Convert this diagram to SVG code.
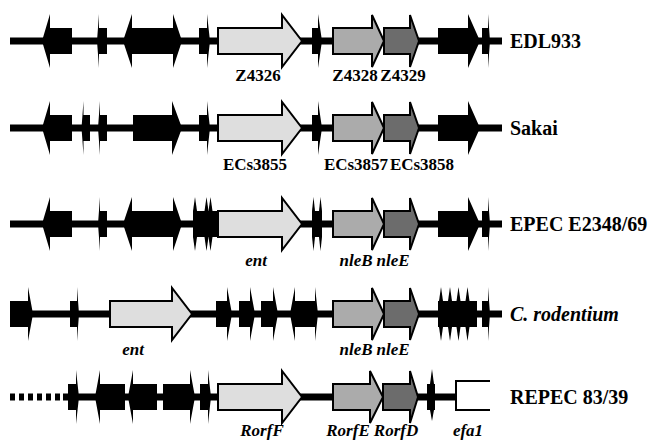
<svg xmlns="http://www.w3.org/2000/svg" width="650" height="440" viewBox="0 0 650 440">
<style>
.bb{stroke:#000;stroke-width:7;fill:none}
.dash{stroke:#000;stroke-width:7;fill:none;stroke-dasharray:5 4}
.blk{fill:#000;stroke:none}
.g1{fill:#dedede;stroke:#000;stroke-width:2;stroke-linejoin:miter}
.g2{fill:#ababab;stroke:#000;stroke-width:2}
.g3{fill:#6c6c6c;stroke:#000;stroke-width:2}
.box{fill:#fff;stroke:#000;stroke-width:2}
.name{font-family:"Liberation Serif","Times New Roman",serif;font-weight:bold;font-size:20px;fill:#000}
.gl{font-family:"Liberation Serif","Times New Roman",serif;font-weight:bold;font-size:17px;fill:#000;text-anchor:middle}
.it{font-style:italic}
</style>
<g id="connectors">
<line class="bb" x1="10" y1="41" x2="502" y2="41"/>
<line class="bb" x1="10" y1="128" x2="502" y2="128"/>
<line class="bb" x1="10" y1="224" x2="502" y2="224"/>
<line class="bb" x1="10" y1="314" x2="502" y2="314"/>
<line class="dash" x1="10" y1="397" x2="63" y2="397"/>
<line class="bb" x1="63" y1="397" x2="456" y2="397"/>
</g>
<g id="edl933" transform="translate(0,41)">
<polygon class="blk" points="42,0 50,-27 50,-13 72,-13 72,13 50,13 50,27"/>
<polygon class="blk" points="97,0 99,-27 99,-13 107,-13 107,13 99,13 99,27"/>
<polygon class="blk" points="123,0 132,-27 132,-13 173,-13 173,-27 182,0 173,27 173,13 132,13 132,27"/>
<polygon class="blk" points="199,-13 207,-13 207,-27 210,0 207,27 207,13 199,13"/>
<polygon class="g1" points="218,-13 282,-13 282,-26 302,0 282,26 282,13 218,13"/>
<polygon class="blk" points="312,-13 318,-13 318,-27 322,0 318,27 318,13 312,13"/>
<polygon class="g2" points="333,-13 372,-13 372,-26 384,0 372,26 372,13 333,13"/>
<polygon class="g3" points="384,-13 410,-13 410,-26 419,0 410,26 410,13 384,13"/>
<polygon class="blk" points="438,-13 468,-13 468,-27 480,0 468,27 468,13 438,13"/>
<polygon class="blk" points="482,-13 488,-13 488,-27 490,0 488,27 488,13 482,13"/>
<text class="name" x="510" y="7">EDL933</text>
<text class="gl" x="258" y="40">Z4326</text>
<text class="gl" x="355" y="40">Z4328</text>
<text class="gl" x="403" y="40">Z4329</text>
</g>
<g id="sakai" transform="translate(0,128)">
<polygon class="blk" points="42,0 50,-27 50,-13 72,-13 72,13 50,13 50,27"/>
<polygon class="blk" points="81.5,0 83.5,-27 83.5,-13 90,-13 90,13 83.5,13 83.5,27"/>
<polygon class="blk" points="98,0 100,-27 100,-13 107,-13 107,13 100,13 100,27"/>
<polygon class="blk" points="133,-13 172,-13 172,-27 182,0 172,27 172,13 133,13"/>
<polygon class="blk" points="199,-13 207,-13 207,-27 210,0 207,27 207,13 199,13"/>
<polygon class="g1" points="218,-13 282,-13 282,-26 302,0 282,26 282,13 218,13"/>
<polygon class="blk" points="312,-13 318,-13 318,-27 322,0 318,27 318,13 312,13"/>
<polygon class="g2" points="333,-13 372,-13 372,-26 384,0 372,26 372,13 333,13"/>
<polygon class="g3" points="384,-13 410,-13 410,-26 419,0 410,26 410,13 384,13"/>
<polygon class="blk" points="438,-13 468,-13 468,-27 480,0 468,27 468,13 438,13"/>
<text class="name" x="510" y="7">Sakai</text>
<text class="gl" x="255" y="42">ECs3855</text>
<text class="gl" x="356" y="42">ECs3857</text>
<text class="gl" x="422" y="42">ECs3858</text>
</g>
<g id="epec" transform="translate(0,224)">
<polygon class="blk" points="42,0 50,-27 50,-13 72,-13 72,13 50,13 50,27"/>
<polygon class="blk" points="98,0 100,-27 100,-13 107,-13 107,13 100,13 100,27"/>
<polygon class="blk" points="123,0 132,-27 132,-13 173,-13 173,-27 182,0 173,27 173,13 132,13 132,27"/>
<rect class="blk" x="193" y="-13" width="26" height="26"/>
<polygon class="blk" points="193,-13 195,-27 197,-13 197,13 195,27 193,13"/>
<polygon class="blk" points="204.5,-13 206.5,-27 208.5,-13 208.5,13 206.5,27 204.5,13"/>
<polygon class="blk" points="208.5,-13 210.5,-27 212.5,-13 212.5,13 210.5,27 208.5,13"/>
<polygon class="g1" points="218,-13 282,-13 282,-26 302,0 282,26 282,13 218,13"/>
<rect class="blk" x="312" y="-13" width="10" height="26"/>
<polygon class="blk" points="312,-13 313.5,-27 315,-13 315,13 313.5,27 312,13"/>
<polygon class="blk" points="319,-13 320.5,-27 322,-13 322,13 320.5,27 319,13"/>
<polygon class="g2" points="333,-13 372,-13 372,-26 384,0 372,26 372,13 333,13"/>
<polygon class="g3" points="384,-13 410,-13 410,-26 419,0 410,26 410,13 384,13"/>
<polygon class="blk" points="438,-13 468,-13 468,-27 480,0 468,27 468,13 438,13"/>
<polygon class="blk" points="482,-13 488,-13 488,-27 490,0 488,27 488,13 482,13"/>
<text class="name" x="510" y="7">EPEC E2348/69</text>
<text class="gl it" x="256" y="42">ent</text>
<text class="gl it" x="356" y="42">nleB</text>
<text class="gl it" x="393" y="42">nleE</text>
</g>
<g id="rodentium" transform="translate(0,314)">
<polygon class="blk" points="10,-13 28,-13 28,-27 33,0 28,27 28,13 10,13"/>
<polygon class="blk" points="70,-13 77,-13 77,-27 79,0 77,27 77,13 70,13"/>
<polygon class="g1" points="110,-13 172,-13 172,-26 192,0 172,26 172,13 110,13"/>
<polygon class="blk" points="216,-13 227,-13 227,-27 232,0 227,27 227,13 216,13"/>
<polygon class="blk" points="239,-13 250,-13 250,-27 255,0 250,27 250,13 239,13"/>
<polygon class="blk" points="261,-13 273,-13 273,-27 278,0 273,27 273,13 261,13"/>
<polygon class="blk" points="290,0 295,-27 295,-13 315,-13 315,-27 318,0 315,27 315,13 295,13 295,27"/>
<polygon class="g2" points="333,-13 372,-13 372,-26 384,0 372,26 372,13 333,13"/>
<polygon class="g3" points="384,-13 410,-13 410,-26 419,0 410,26 410,13 384,13"/>
<rect class="blk" x="438" y="-13" width="39" height="26"/>
<polygon class="blk" points="439,-13 441,-27 443,-13 443,13 441,27 439,13"/>
<polygon class="blk" points="448,-13 450,-27 452,-13 452,13 450,27 448,13"/>
<polygon class="blk" points="456.5,-13 458.5,-27 460.5,-13 460.5,13 458.5,27 456.5,13"/>
<polygon class="blk" points="465.5,-13 467.5,-27 469.5,-13 469.5,13 467.5,27 465.5,13"/>
<polygon class="blk" points="482,-13 488,-13 488,-27 490,0 488,27 488,13 482,13"/>
<text class="name it" x="510" y="7">C. rodentium</text>
<text class="gl it" x="133" y="41">ent</text>
<text class="gl it" x="356" y="41">nleB</text>
<text class="gl it" x="393" y="41">nleE</text>
</g>
<g id="repec" transform="translate(0,397)">
<polygon class="blk" points="68,-13 76,-13 76,-27 79,0 76,27 76,13 68,13"/>
<polygon class="blk" points="95,0 100,-27 100,-13 125,-13 125,13 100,13 100,27"/>
<polygon class="blk" points="128,0 133,-27 133,-13 157,-13 157,13 133,13 133,27"/>
<polygon class="blk" points="163,-13 190,-13 190,-27 195,0 190,27 190,13 163,13"/>
<polygon class="blk" points="200,-13 208,-13 208,-27 211,0 208,27 208,13 200,13"/>
<polygon class="g1" points="218,-13 282,-13 282,-26 302,0 282,26 282,13 218,13"/>
<polygon class="g2" points="333,-13 370,-13 370,-26 383,0 370,26 370,13 333,13"/>
<polygon class="g3" points="383,-13 410,-13 410,-26 418,0 410,26 410,13 383,13"/>
<rect class="blk" x="427" y="-13" width="8" height="26"/>
<polygon class="blk" points="430,-13 432,-28 434,-13 434,13 432,24 430,13"/>
<path class="box" d="M490,-16 H456 V13 H490"/>
<text class="name" x="510" y="7">REPEC 83/39</text>
<text class="gl it" x="262" y="39">RorfF</text>
<text class="gl it" x="348" y="39">RorfE</text>
<text class="gl it" x="396" y="39">RorfD</text>
<text class="gl it" x="468" y="39">efa1</text>
</g>
</svg>
